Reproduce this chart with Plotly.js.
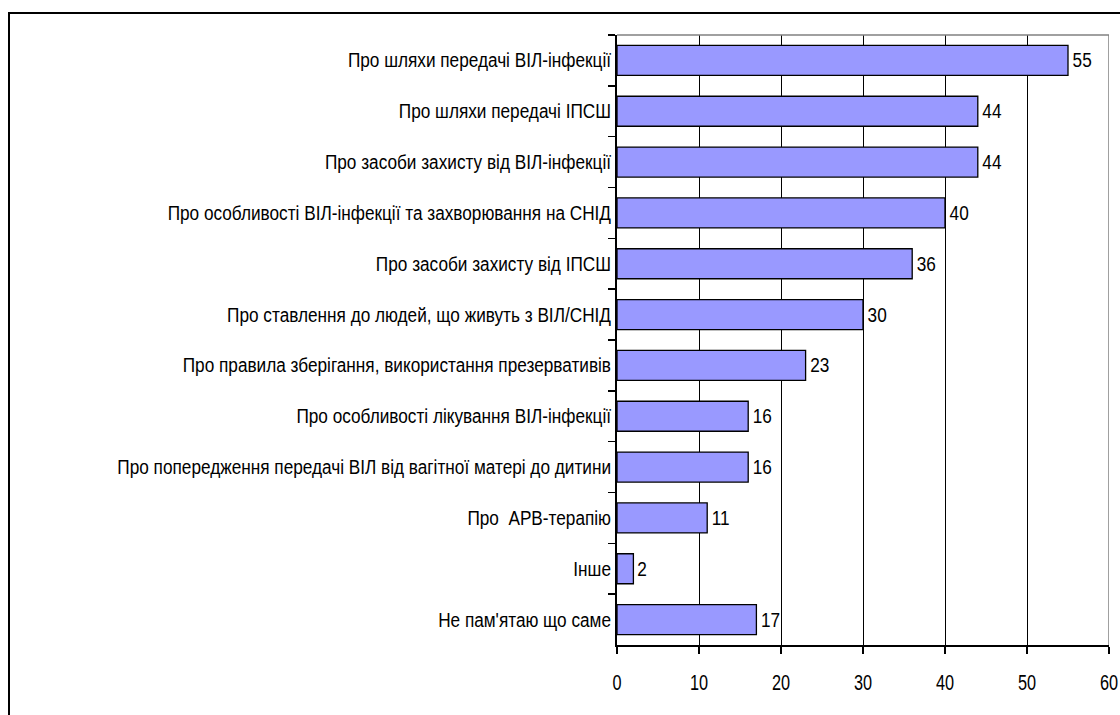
<!DOCTYPE html>
<html>
<head>
<meta charset="utf-8">
<script src="https://cdn.plot.ly/plotly-3.0.1.min.js"></script>
<style>
html,body{margin:0;padding:0;background:#fff;}
#chart{width:1120px;height:715px;}
</style>
</head>
<body>
<div id="chart"></div>
<script>
const categories = [
  "Про шляхи передачі ВІЛ-інфекції",
  "Про шляхи передачі ІПСШ",
  "Про засоби захисту від ВІЛ-інфекції",
  "Про особливості ВІЛ-інфекції та захворювання на СНІД",
  "Про засоби захисту від ІПСШ",
  "Про ставлення до людей, що живуть з ВІЛ/СНІД",
  "Про правила зберігання, використання презервативів",
  "Про особливості лікування ВІЛ-інфекції",
  "Про попередження передачі ВІЛ від вагітної матері до дитини",
  "Про  АРВ-терапію",
  "Інше",
  "Не пам'ятаю що саме"
];
const values = [55, 44, 44, 40, 36, 30, 23, 16, 16, 11, 2, 17];
const xTicks = [0, 10, 20, 30, 40, 50, 60];

const FONT = "'Liberation Sans Narrow', 'Arial Narrow', 'Liberation Sans', Arial, sans-serif";
const FS = 20;
const NARROW = 0.86;
const XFS = 22;
const XNARROW = 0.74;

const trace = {
  type: 'bar',
  orientation: 'h',
  x: values,
  y: categories,
  marker: {color: '#9999FF', line: {color: '#000000', width: 1.3}},
  text: values.map(String),
  textposition: 'outside',
  cliponaxis: false,
  textfont: {family: FONT, size: FS, color: '#000'},
  hoverinfo: 'x+y'
};

const layout = {
  width: 1120, height: 715,
  margin: {l: 617, r: 11, t: 35, b: 70, pad: 0},
  paper_bgcolor: '#fff', plot_bgcolor: '#fff',
  showlegend: false,
  bargap: 0.41,
  font: {family: FONT, size: FS, color: '#000'},
  xaxis: {
    range: [0, 60], tickvals: xTicks, ticktext: xTicks.map(String),
    showgrid: true, gridcolor: '#000', gridwidth: 1,
    zeroline: false,
    showline: true, linecolor: '#000', linewidth: 2,
    ticks: 'outside', ticklen: 7, tickcolor: '#000', tickwidth: 1.5,
    tickfont: {family: FONT, size: XFS, color: '#000'},
    ticklabelstandoff: 10,
    ticklabeloverflow: 'allow',
    fixedrange: true, automargin: false
  },
  yaxis: {
    type: 'category', autorange: 'reversed',
    showgrid: false, zeroline: false,
    showline: true, linecolor: '#000', linewidth: 2,
    ticks: 'outside', tickson: 'boundaries', ticklen: 7, tickcolor: '#000', tickwidth: 1.5,
    tickfont: {family: FONT, size: FS, color: '#000'},
    fixedrange: true, automargin: false
  },
  shapes: [
    {type: 'line', xref: 'x', yref: 'paper', x0: 0, x1: 60, y0: 1, y1: 1,
     line: {color: '#808080', width: 1.5}, layer: 'above'},
    {type: 'line', xref: 'x', yref: 'paper', x0: 60, x1: 60, y0: 0, y1: 1,
     line: {color: '#808080', width: 1.5}, layer: 'above'},
    {type: 'rect', xref: 'paper', yref: 'paper',
     x0: (9 - 617) / 492, x1: 1.05, y0: -0.2, y1: (645 - 13) / 610,
     line: {color: '#000', width: 2}, fillcolor: 'rgba(0,0,0,0)', layer: 'below'}
  ]
};

function condense(sel, k, gd) {
  gd.querySelectorAll(sel).forEach(function (t) {
    const w = t.getComputedTextLength();
    if (w > 0) {
      t.setAttribute('textLength', (w * k).toFixed(2));
      t.setAttribute('lengthAdjust', 'spacingAndGlyphs');
    }
  });
}

Plotly.newPlot('chart', [trace], layout, {displayModeBar: false, staticPlot: true}).then(function (gd) {
  // emulate a condensed (narrow) typeface by compressing glyphs horizontally
  condense('.ytick text, .textpoint text, text.bartext', NARROW, gd);
  condense('.xtick text', XNARROW, gd);
});
</script>
</body>
</html>
